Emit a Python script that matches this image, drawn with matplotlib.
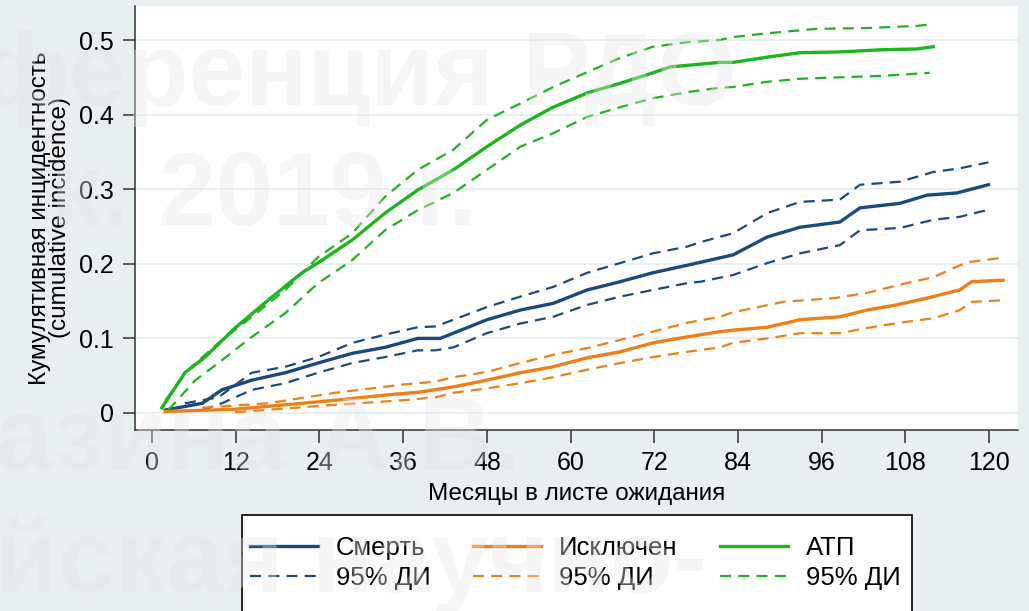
import matplotlib
matplotlib.use("Agg")
import matplotlib.pyplot as plt
from matplotlib.patches import Rectangle

# --- data (months, cumulative incidence) ---
death_t = [1.9, 7.2, 10.0, 14.3, 19.1, 23.8, 28.7, 33.4, 38.1, 41.3, 43.2, 48.0, 52.8, 57.5,
           62.4, 67.1, 71.8, 76.7, 78.6, 83.3, 88.2, 92.9, 98.6, 101.5, 107.2, 111.1, 115.4, 119.9]
death_v = [0.004, 0.013, 0.031, 0.044, 0.054, 0.067, 0.080, 0.088, 0.100, 0.100, 0.107, 0.125,
           0.138, 0.147, 0.165, 0.176, 0.188, 0.198, 0.202, 0.212, 0.236, 0.249, 0.256, 0.275,
           0.281, 0.292, 0.295, 0.306]
death_hi_t = [4.7, 9.5, 14.3, 19.1, 23.8, 28.7, 33.4, 38.1, 40.6, 43.2, 48.0, 52.8, 57.5, 62.4,
              67.1, 71.8, 76.7, 78.6, 83.3, 88.2, 92.9, 98.6, 101.5, 107.2, 112.0, 115.8, 119.9]
death_hi_v = [0.013, 0.021, 0.054, 0.062, 0.075, 0.094, 0.105, 0.115, 0.116, 0.125, 0.142,
              0.156, 0.169, 0.188, 0.201, 0.214, 0.223, 0.229, 0.241, 0.268, 0.283, 0.286,
              0.306, 0.310, 0.323, 0.328, 0.336]
death_lo_t = [7.2, 10.0, 14.3, 19.1, 23.8, 28.7, 33.4, 38.1, 40.6, 43.2, 48.0, 52.8, 57.5, 62.4,
              67.1, 71.8, 76.7, 78.6, 83.3, 88.2, 92.9, 98.6, 101.5, 107.2, 112.0, 115.8, 119.7]
death_lo_v = [0.004, 0.013, 0.031, 0.040, 0.054, 0.067, 0.075, 0.084, 0.084, 0.088, 0.107,
              0.120, 0.129, 0.145, 0.156, 0.165, 0.174, 0.176, 0.185, 0.201, 0.214, 0.225,
              0.245, 0.248, 0.259, 0.263, 0.272]

excl_t = [1.9, 11.9, 19.1, 26.2, 33.4, 38.4, 43.2, 48.0, 52.8, 57.5, 62.4, 67.1, 71.8, 76.7,
          81.4, 83.3, 88.2, 92.9, 98.6, 102.5, 106.8, 111.1, 115.8, 117.5, 122.0]
excl_v = [0.002, 0.005, 0.011, 0.017, 0.024, 0.028, 0.035, 0.044, 0.054, 0.062, 0.074, 0.082,
          0.094, 0.102, 0.109, 0.111, 0.115, 0.125, 0.129, 0.138, 0.145, 0.154, 0.165, 0.176,
          0.178]
excl_hi_t = [7.2, 16.6, 26.2, 35.8, 40.6, 43.2, 48.0, 52.8, 57.5, 62.4, 67.1, 71.8, 76.7, 81.4,
             83.3, 90.5, 97.8, 102.5, 107.2, 112.0, 116.8, 121.8]
excl_hi_v = [0.007, 0.013, 0.027, 0.038, 0.042, 0.048, 0.055, 0.067, 0.078, 0.087, 0.098, 0.109,
             0.121, 0.129, 0.135, 0.149, 0.154, 0.161, 0.172, 0.182, 0.202, 0.208]
excl_lo_t = [11.9, 26.2, 35.8, 40.6, 43.2, 48.0, 52.8, 57.5, 62.4, 67.1, 71.8, 76.7, 81.4, 83.3,
             88.2, 92.9, 98.6, 102.5, 107.2, 112.0, 115.8, 117.5, 121.8]
excl_lo_v = [0.001, 0.011, 0.017, 0.021, 0.027, 0.033, 0.040, 0.048, 0.058, 0.067, 0.075, 0.082,
             0.088, 0.094, 0.100, 0.107, 0.107, 0.114, 0.121, 0.127, 0.138, 0.149, 0.151]

atp_t = [1.4, 4.7, 7.6, 11.9, 16.6, 21.5, 24.4, 28.7, 33.4, 38.1, 43.2, 48.0, 52.8, 57.5, 62.4,
         67.1, 71.8, 74.3, 76.7, 81.4, 83.3, 88.2, 92.9, 98.6, 104.8, 109.7, 112.0]
atp_v = [0.007, 0.054, 0.075, 0.114, 0.151, 0.188, 0.205, 0.232, 0.268, 0.299, 0.326, 0.357,
         0.386, 0.410, 0.429, 0.442, 0.456, 0.464, 0.466, 0.470, 0.470, 0.477, 0.483, 0.484,
         0.487, 0.488, 0.491]
atp_hi_t = [1.9, 5.2, 9.5, 14.3, 19.1, 23.8, 28.7, 33.4, 38.1, 43.2, 48.0, 52.8, 57.5, 62.4,
            67.1, 71.8, 76.7, 81.4, 83.3, 88.2, 95.3, 102.5, 109.7, 111.8]
atp_hi_v = [0.017, 0.058, 0.094, 0.129, 0.165, 0.209, 0.241, 0.290, 0.326, 0.353, 0.393, 0.415,
            0.437, 0.457, 0.476, 0.491, 0.497, 0.500, 0.504, 0.509, 0.515, 0.516, 0.519, 0.521]
atp_lo_t = [2.3, 6.2, 9.5, 14.3, 19.1, 23.8, 28.7, 33.4, 38.1, 43.2, 48.0, 52.8, 57.5, 62.4,
            67.1, 71.8, 76.7, 81.4, 83.3, 88.2, 92.9, 98.6, 104.8, 111.5]
atp_lo_v = [0.004, 0.044, 0.067, 0.102, 0.134, 0.174, 0.205, 0.245, 0.272, 0.295, 0.326, 0.357,
            0.375, 0.397, 0.410, 0.422, 0.430, 0.436, 0.437, 0.444, 0.448, 0.450, 0.452, 0.456]

x_ticks = list(range(0, 121, 12))
y_ticks = [0, 0.1, 0.2, 0.3, 0.4, 0.5]
y_labels = ["0", "0.1", "0.2", "0.3", "0.4", "0.5"]
watermark = ["ференция РДО", "к. 2019 г.", "азина А.В.", "йская научно-"]

BLUE = "#1b4a7a"
ORANGE = "#f07e14"
GREEN = "#1db41d"
BG = "#e9eef1"

plt.rcParams["font.family"] = ["Liberation Sans", "DejaVu Sans"]

W, H = 1029, 611
fig = plt.figure(figsize=(W / 100, H / 100), dpi=100, facecolor=BG)
ax = fig.add_axes([135 / W, 1 - 430 / H, 883 / W, 424 / H])
ax.set_facecolor("white")

solid = dict(lw=2.4, solid_joinstyle="miter")
dash = dict(lw=1.6, dashes=(5, 3.2))
ax.plot(death_t, death_v, color=BLUE, label="Смерть", **solid)
ax.plot(death_hi_t, death_hi_v, color=BLUE, label="95% ДИ", **dash)
ax.plot(death_lo_t, death_lo_v, color=BLUE, **dash)
ax.plot(excl_t, excl_v, color=ORANGE, label="Исключен", **solid)
ax.plot(excl_hi_t, excl_hi_v, color=ORANGE, label="95% ДИ", **dash)
ax.plot(excl_lo_t, excl_lo_v, color=ORANGE, **dash)
ax.plot(atp_t, atp_v, color=GREEN, label="АТП", **solid)
ax.plot(atp_hi_t, atp_hi_v, color=GREEN, label="95% ДИ", **dash)
ax.plot(atp_lo_t, atp_lo_v, color=GREEN, **dash)

x0 = -2.45
ax.set_xlim(x0, x0 + 883 / (837 / 120))
ax.set_ylim(-17 / 746, 407 / 746)
ax.set_xticks(x_ticks)
ax.set_yticks(y_ticks)
ax.set_yticklabels(y_labels)
ax.tick_params(axis="both", direction="out", length=9, width=1.1, color="#333333",
               labelsize=18, pad=6)
ax.grid(axis="y", color="#e2eeef", lw=1.2)
ax.set_axisbelow(True)
for s in ["top", "right"]:
    ax.spines[s].set_visible(False)
for s in ["left", "bottom"]:
    ax.spines[s].set_color("#333333")
    ax.spines[s].set_linewidth(1.1)

ax.set_xlabel("Месяцы в листе ожидания", fontsize=17.5, labelpad=6)
ax.set_ylabel("Кумулятивная инцидентность\n(cumulative incidence)", fontsize=17.5,
              labelpad=6, linespacing=0.9)

# legend box (runs off the bottom edge like in the source slide)
fig.patches.append(Rectangle((242 / W, -0.05), (912 - 242) / W, 1 - 515 / H + 0.05,
                             transform=fig.transFigure, facecolor="white",
                             edgecolor="black", lw=1.2, zorder=1))
handles, labels = ax.get_legend_handles_labels()
leg = fig.legend(handles, labels, ncol=3, loc="upper left",
                 bbox_to_anchor=(250 / W, 1 - 536 / H), fontsize=18.5,
                 frameon=False, handlelength=2.65, handletextpad=0.7,
                 columnspacing=1.65, labelspacing=0.23, borderpad=0, borderaxespad=0)
leg.set_zorder(2)

# faint slide watermark over the picture
wm_pos = [(-20, 105), (50, 225), (-5, 470), (-5, 592)]
for txt, (x, y) in zip(watermark, wm_pos):
    fig.text(x / W, 1 - y / H, txt, fontsize=74, fontweight="bold", color="#e6e6e6",
             alpha=0.38, ha="left", va="baseline", zorder=10)

fig.savefig("out.png", dpi=100, facecolor=BG)
